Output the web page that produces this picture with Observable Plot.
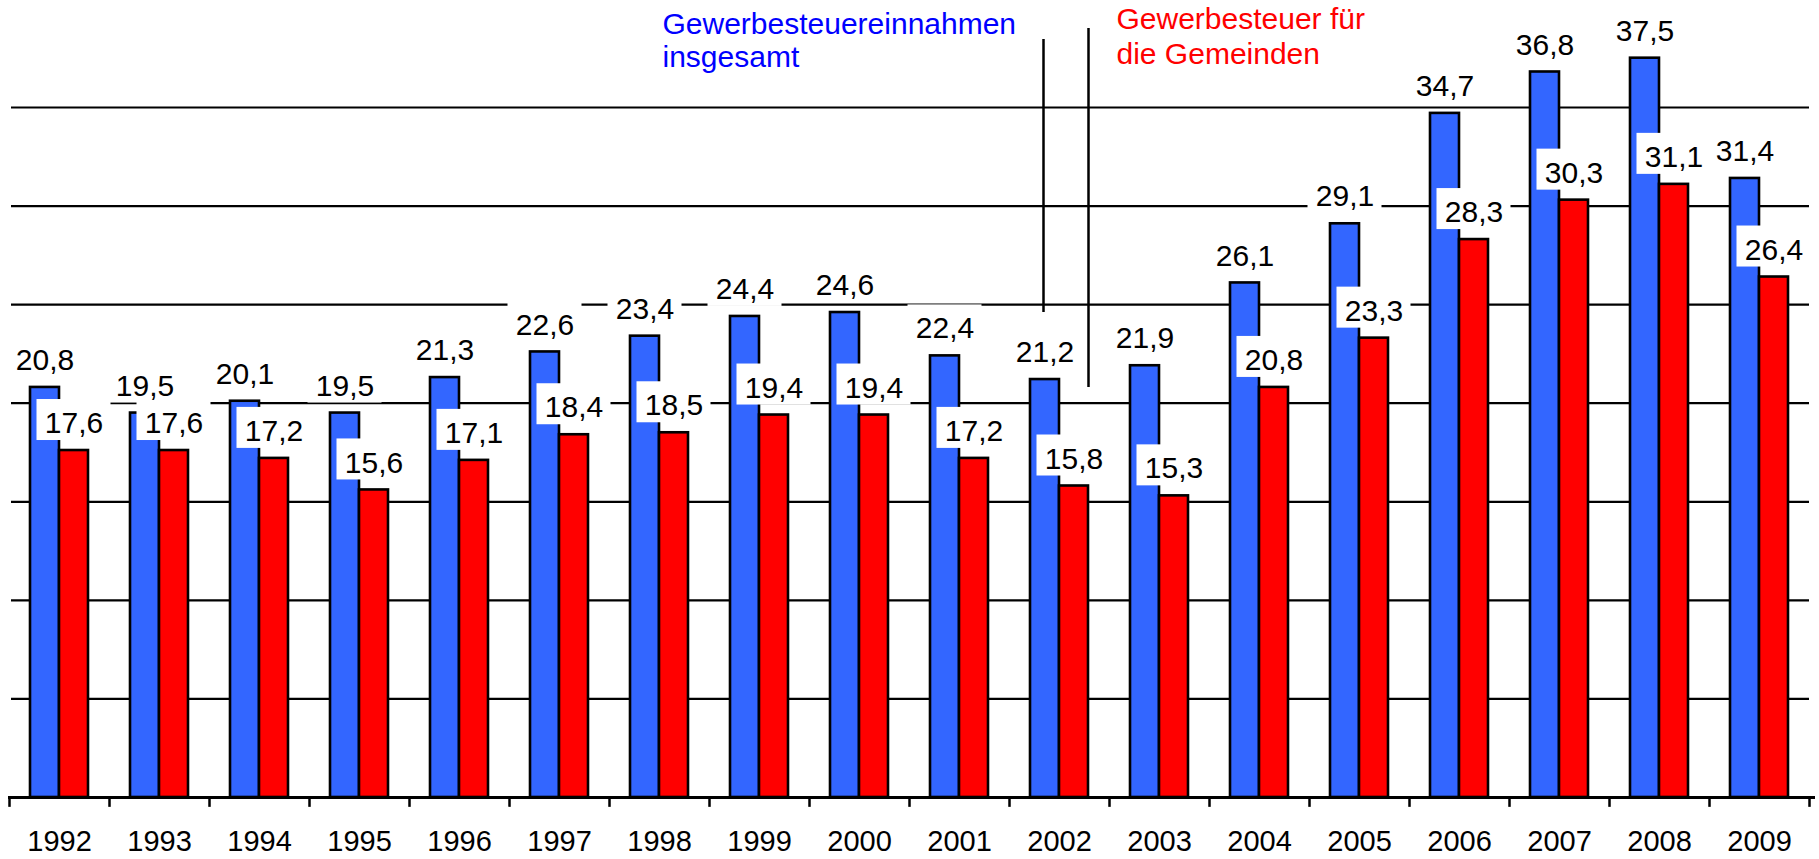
<!DOCTYPE html>
<html>
<head>
<meta charset="utf-8">
<script src="https://cdn.jsdelivr.net/npm/d3@7"></script>
<script src="https://cdn.jsdelivr.net/npm/@observablehq/plot@0.6"></script>
<style>
  html, body { margin: 0; padding: 0; background: #fff; }
  #chart { width: 1819px; height: 859px; overflow: hidden; }
</style>
</head>
<body>
<div id="chart"></div>
<script>
// ---- data ----
const years = ["1992","1993","1994","1995","1996","1997","1998","1999","2000","2001","2002","2003","2004","2005","2006","2007","2008","2009"];
const gesamt = [20.8,19.5,20.1,19.5,21.3,22.6,23.4,24.4,24.6,22.4,21.2,21.9,26.1,29.1,34.7,36.8,37.5,31.4];
const gemeinden = [17.6,17.6,17.2,15.6,17.1,18.4,18.5,19.4,19.4,17.2,15.8,15.3,20.8,23.3,28.3,30.3,31.1,26.4];
const gridValues = [5,10,15,20,25,30,35];
const annoYears = ["1998","2003"];
const annoTexts = ["Gewerbesteuereinnahmen\ninsgesamt", "Gewerbesteuer für\ndie Gemeinden"];
const leaderYear = "2002";
const leaderBlue = [24.6, 38.45];
const leaderRed = [20.8, 39.0];

// ---- tables built from the arrays ----
const blueData = years.map((year, i) => ({year, v: gesamt[i]}));
const redData = years.map((year, i) => ({year, v: gemeinden[i]}));
const fmt = v => v.toFixed(1).replace(".", ",");

const BLUE = "#3366FF", RED = "#FF0000";
const font = "'Liberation Sans', Arial, sans-serif";

const plot = Plot.plot({
  width: 1819,
  height: 859,
  marginLeft: 9,
  marginRight: 10,
  marginTop: 8.4,
  marginBottom: 62,
  style: {fontFamily: font, fontSize: "29px", color: "black", background: "white"},
  x: {type: "band", domain: years, paddingInner: 0.42, paddingOuter: 0.21, align: 0.5, round: false,
      tickSize: 0, tickPadding: 33, label: null},
  y: {domain: [0, 40], axis: null},
  marks: [
    Plot.ruleY(gridValues, {stroke: "black", strokeWidth: 2.2, insetLeft: 2}),
    Plot.barY(blueData, {x: "year", y: "v", fill: BLUE, stroke: "black", strokeWidth: 2.6, insetRight: 29}),
    Plot.barY(redData, {x: "year", y: "v", fill: RED, stroke: "black", strokeWidth: 2.6, insetLeft: 29}),
    Plot.ruleY([0], {stroke: "black", strokeWidth: 3, insetLeft: -1, insetRight: -6}),
    Plot.ruleX(years, {x: d => d, y1: 0, y2: -0.5, dx: -50, stroke: "black", strokeWidth: 2.5}),
    Plot.ruleX(years.slice(-1), {x: d => d, y1: 0, y2: -0.5, dx: 50, stroke: "black", strokeWidth: 2.5}),
    // white label boxes
    Plot.barY(blueData, {x: "year", y1: "v", y2: "v", fill: "white", insetTop: -51, insetBottom: 10, insetLeft: -22.5, insetRight: 6.5}),
    Plot.barY(redData, {x: "year", y1: "v", y2: "v", fill: "white", insetTop: -51, insetBottom: 10, insetLeft: 6.5, insetRight: -22.5}),
    Plot.text(blueData, {x: "year", y: "v", text: d => fmt(d.v), dx: -14.5, dy: -27, fontSize: 30, fill: "black"}),
    Plot.text(redData, {x: "year", y: "v", text: d => fmt(d.v), dx: 14.5, dy: -27, fontSize: 30, fill: "black"}),
    // leader lines
    Plot.ruleX([leaderYear], {x: d => d, y1: leaderBlue[0], y2: leaderBlue[1], dx: -16, stroke: "black", strokeWidth: 2.5}),
    Plot.ruleX([leaderYear], {x: d => d, y1: leaderRed[0], y2: leaderRed[1], dx: 29, stroke: "black", strokeWidth: 2.5}),
    // annotations
    Plot.text([0], {x: () => annoYears[0], y: () => 40, text: () => annoTexts[0], textAnchor: "start", lineAnchor: "top",
      dx: 3, dy: 2, fontSize: 30, lineHeight: 1.1, fill: "#0000FF"}),
    Plot.text([0], {x: () => annoYears[1], y: () => 40, text: () => annoTexts[1], textAnchor: "start", lineAnchor: "top",
      dx: -43, dy: -4.5, fontSize: 30, lineHeight: 1.17, fill: RED})
  ]
});
document.getElementById("chart").appendChild(plot);
</script>
</body>
</html>
